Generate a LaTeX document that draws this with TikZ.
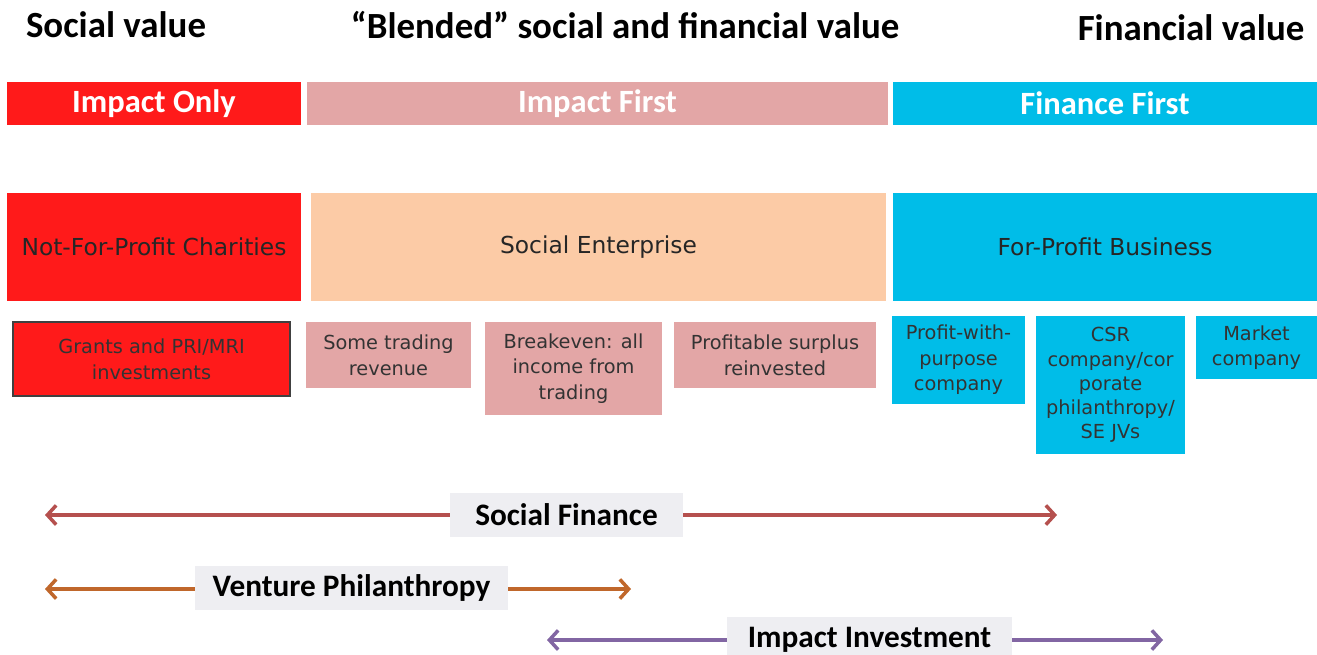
\documentclass[tikz,border=0pt]{standalone}
\usepackage{fontspec}
\setmainfont{Carlito}
\newfontfamily\boxfont{DejaVu Sans}
\usetikzlibrary{arrows.meta}
\definecolor{onlyred}{HTML}{FF1A1A}
\definecolor{firstpink}{HTML}{E3A6A6}
\definecolor{financecyan}{HTML}{00BDE8}
\definecolor{sepeach}{HTML}{FCCBA6}
\definecolor{labelgrey}{HTML}{EEEEF2}
\definecolor{sfred}{HTML}{B5504E}
\definecolor{vporange}{HTML}{C0672B}
\definecolor{iipurple}{HTML}{8266A3}
\tikzset{
  wd/.style={minimum width={#1*0.02cm}},
  ht/.style={minimum height={#1*0.02cm}},
  header/.style={font=\fontsize{21}{24}\selectfont\bfseries, inner sep=0pt},
  bar/.style={inner sep=0pt, ht=43, text=white,
    font=\fontsize{18.5}{20}\selectfont\bfseries},
  sector/.style={inner sep=0pt, ht=108, text=black!85,
    font=\boxfont\fontsize{13.3}{16}\selectfont},
  item/.style={inner sep=0pt, align=center, text=black!80,
    font=\boxfont\fontsize{11}{14.6}\selectfont},
  spanlabel/.style={fill=labelgrey, inner sep=0pt, ht=44,
    font=\fontsize{17.8}{20}\selectfont\bfseries},
  spanline/.style={line width=2pt, -{Straight Barb[length=5pt,width=11pt]}}
}
\begin{document}
\begin{tikzpicture}[x=0.02cm,y=-0.02cm]
  \useasboundingbox (0,0) rectangle (1317,654);
  % value headings
  \node[header] (socval) at (116,25) {Social value};
  \node[header] (blendval) at (625,25) {``Blended'' social and financial value};
  \node[header] (finval) at (1191,28) {Financial value};
  % impact bars
  \node[bar, fill=onlyred, wd=294] (only) at (154,103.5) {Impact Only};
  \node[bar, fill=firstpink, wd=581] (first) at (597.5,103.5) {Impact First};
  \node[bar, fill=financecyan, wd=424] (finfirst) at (1105,103.5) {Finance First};
  % organisation types
  \node[sector, fill=onlyred, wd=294] (nfp) at (154,247) {Not-For-Profit Charities};
  \node[sector, fill=sepeach, wd=575] (se) at (598.5,247) {Social Enterprise};
  \node[sector, fill=financecyan, wd=424] (fpb) at (1105,247) {For-Profit Business};
  % sub types
  \node[item, fill=onlyred, draw=black!75, line width=0.8pt, wd=277, ht=74] (grants) at (151.5,359) {Grants and PRI/MRI\\investments};
  \node[item, fill=firstpink, wd=165, ht=66] (trading) at (388.5,355) {Some trading\\revenue};
  \node[item, fill=firstpink, wd=177, ht=93] (breakeven) at (573.5,368.5) {Breakeven: all\\income from\\trading};
  \node[item, fill=firstpink, wd=202, ht=66] (surplus) at (775,355) {Profitable surplus\\reinvested};
  \node[item, fill=financecyan, wd=133, ht=88] (purpose) at (958.5,360) {Profit-with-\\purpose\\company};
  \node[item, fill=financecyan, wd=149, ht=138, font=\boxfont\fontsize{11}{13.8}\selectfont] (csr) at (1110.5,385) {CSR\\company/cor\\porate\\philanthropy/\\SE JVs};
  \node[item, fill=financecyan, wd=121, ht=63] (market) at (1256.5,347.5) {Market\\company};
  % finance spans
  \node[spanlabel, wd=233] (sf) at (566.5,514.5) {Social Finance};
  \coordinate (sfL) at (45,515);
  \coordinate (sfR) at (1057,515);
  \draw[spanline, sfred] (sf.west |- sfL) -- (sfL);
  \draw[spanline, sfred] (sf.east |- sfR) -- (sfR);
  \node[spanlabel, wd=313] (vp) at (351.5,587.5) {Venture Philanthropy};
  \coordinate (vpL) at (45,589);
  \coordinate (vpR) at (631,589);
  \draw[spanline, vporange] (vp.west |- vpL) -- (vpL);
  \draw[spanline, vporange] (vp.east |- vpR) -- (vpR);
  \node[spanlabel, wd=285, ht=46] (ii) at (869.5,640) {Impact Investment};
  \coordinate (iiL) at (547,640);
  \coordinate (iiR) at (1163,640);
  \draw[spanline, iipurple] (ii.west) -- (iiL);
  \draw[spanline, iipurple] (ii.east) -- (iiR);
\end{tikzpicture}
\end{document}
